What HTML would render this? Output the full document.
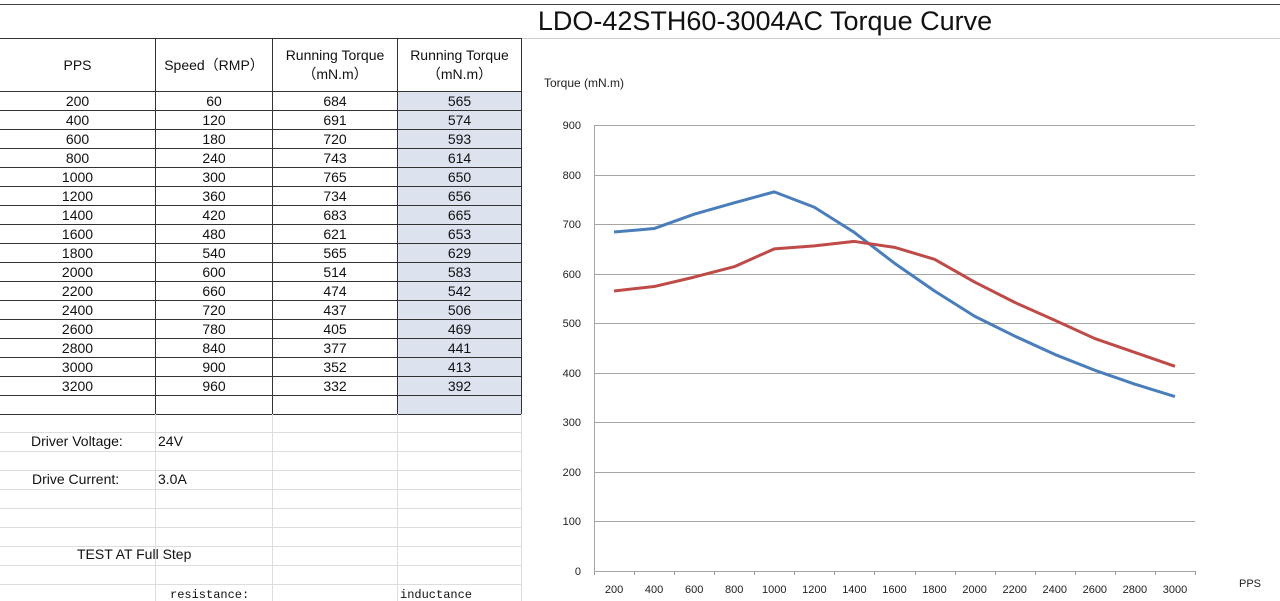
<!DOCTYPE html>
<html><head><meta charset="utf-8"><style>
body{margin:0;width:1280px;height:601px;overflow:hidden;background:#fff;font-family:"Liberation Sans",sans-serif;position:relative}
.a{position:absolute}
table{border-collapse:collapse;position:absolute;left:-1px;top:38px;font-size:14px}
td{text-align:center;padding:0;height:18px;border:1px solid #333;line-height:18px;color:#111}
td.b{background:#dce3ef}
.hd td{height:52px;line-height:19px}
</style></head><body>
<div class="a" style="left:0;top:4px;width:1280px;height:1px;background:#444"></div>
<div class="a" style="left:0;top:38px;width:521px;height:1px;background:#444"></div>
<div class="a" style="left:521px;top:38px;width:759px;height:1px;background:#ccc"></div>
<div class="a" style="left:530px;top:4px;width:470px;text-align:center;font-size:27px;line-height:34px;color:#111">LDO-42STH60-3004AC Torque Curve</div>
<table>
<colgroup><col style="width:156px"><col style="width:117px"><col style="width:125px"><col style="width:124px"></colgroup>
<tr class="hd"><td>PPS</td><td>Speed（RMP）</td><td>Running Torque<br>（mN.m）</td><td>Running Torque<br>（mN.m）</td></tr>
<tr><td>200</td><td>60</td><td>684</td><td class="b">565</td></tr>
<tr><td>400</td><td>120</td><td>691</td><td class="b">574</td></tr>
<tr><td>600</td><td>180</td><td>720</td><td class="b">593</td></tr>
<tr><td>800</td><td>240</td><td>743</td><td class="b">614</td></tr>
<tr><td>1000</td><td>300</td><td>765</td><td class="b">650</td></tr>
<tr><td>1200</td><td>360</td><td>734</td><td class="b">656</td></tr>
<tr><td>1400</td><td>420</td><td>683</td><td class="b">665</td></tr>
<tr><td>1600</td><td>480</td><td>621</td><td class="b">653</td></tr>
<tr><td>1800</td><td>540</td><td>565</td><td class="b">629</td></tr>
<tr><td>2000</td><td>600</td><td>514</td><td class="b">583</td></tr>
<tr><td>2200</td><td>660</td><td>474</td><td class="b">542</td></tr>
<tr><td>2400</td><td>720</td><td>437</td><td class="b">506</td></tr>
<tr><td>2600</td><td>780</td><td>405</td><td class="b">469</td></tr>
<tr><td>2800</td><td>840</td><td>377</td><td class="b">441</td></tr>
<tr><td>3000</td><td>900</td><td>352</td><td class="b">413</td></tr>
<tr><td>3200</td><td>960</td><td>332</td><td class="b">392</td></tr>
<tr><td></td><td></td><td></td><td class="b"></td></tr>
</table>
<svg class="a" style="left:0;top:0" width="1280" height="601">
<g stroke="#ddd" stroke-width="1">
<line x1="155.5" y1="414" x2="155.5" y2="601"/><line x1="272.5" y1="414" x2="272.5" y2="601"/><line x1="397.5" y1="414" x2="397.5" y2="601"/><line x1="521.5" y1="414" x2="521.5" y2="601"/>
<line x1="0" y1="432.5" x2="521" y2="432.5"/><line x1="0" y1="451.5" x2="521" y2="451.5"/><line x1="0" y1="470.5" x2="521" y2="470.5"/><line x1="0" y1="489.5" x2="521" y2="489.5"/><line x1="0" y1="508.5" x2="521" y2="508.5"/><line x1="0" y1="527.5" x2="521" y2="527.5"/><line x1="0" y1="546.5" x2="521" y2="546.5"/><line x1="0" y1="565.5" x2="521" y2="565.5"/><line x1="0" y1="584.5" x2="521" y2="584.5"/>
</g>
<g font-size="14" fill="#111" font-family="Liberation Sans,sans-serif">
<text x="31" y="446">Driver Voltage:</text><text x="158" y="446">24V</text>
<text x="32" y="484">Drive Current:</text><text x="158" y="484">3.0A</text>
<text x="77" y="559">TEST AT Full Step</text>
</g>
<g font-size="12" fill="#111" font-family="Liberation Mono,monospace">
<text x="170" y="598">resistance:</text><text x="400" y="598">inductance</text>
</g>
<text x="544" y="87" font-size="12" fill="#222">Torque (mN.m)</text>
<g stroke="#a6a6a6" stroke-width="1">
<line x1="594" y1="125.5" x2="1195" y2="125.5"/><line x1="594" y1="175.5" x2="1195" y2="175.5"/><line x1="594" y1="224.5" x2="1195" y2="224.5"/><line x1="594" y1="274.5" x2="1195" y2="274.5"/><line x1="594" y1="323.5" x2="1195" y2="323.5"/><line x1="594" y1="373.5" x2="1195" y2="373.5"/><line x1="594" y1="422.5" x2="1195" y2="422.5"/><line x1="594" y1="472.5" x2="1195" y2="472.5"/><line x1="594" y1="521.5" x2="1195" y2="521.5"/><line x1="594" y1="571.5" x2="1195" y2="571.5"/>
<line x1="594.5" y1="125" x2="594.5" y2="575"/>
</g>
<g stroke="#999" id="t"></g>
<g font-size="11" fill="#222" text-anchor="end">
<text x="581" y="129">900</text><text x="581" y="179">800</text><text x="581" y="228">700</text><text x="581" y="278">600</text><text x="581" y="327">500</text><text x="581" y="377">400</text><text x="581" y="426">300</text><text x="581" y="476">200</text><text x="581" y="525">100</text><text x="581" y="575">0</text>
</g>
<g font-size="11" fill="#222" text-anchor="middle" id="xl"></g>
<text x="1250" y="587" font-size="11" fill="#222" text-anchor="middle">PPS</text>
<polyline id="bl" fill="none" stroke="#4a7ebb" stroke-width="3" stroke-linejoin="round"/>
<polyline id="rd" fill="none" stroke="#be4b48" stroke-width="3" stroke-linejoin="round"/>
</svg>
<script>
var B=[684,691,720,743,765,734,683,621,565,514,474,437,405,377,352],R=[565,574,593,614,650,656,665,653,629,583,542,506,469,441,413];
var w=601/15,s='',h='',pb=[],pr=[];
for(var i=0;i<15;i++){var x=594+w*(i+.5);pb.push(x+','+(571-B[i]*0.4956));pr.push(x+','+(571-R[i]*0.4956));
h+='<text x="'+x+'" y="593">'+(200*(i+1))+'</text>';}
for(var i=0;i<=15;i++){var x=Math.round(594+w*i)+.5;s+='<line x1="'+x+'" y1="571" x2="'+x+'" y2="575"/>';}
document.getElementById('t').innerHTML=s;document.getElementById('xl').innerHTML=h;
document.getElementById('bl').setAttribute('points',pb.join(' '));document.getElementById('rd').setAttribute('points',pr.join(' '));
</script>
</body></html>
